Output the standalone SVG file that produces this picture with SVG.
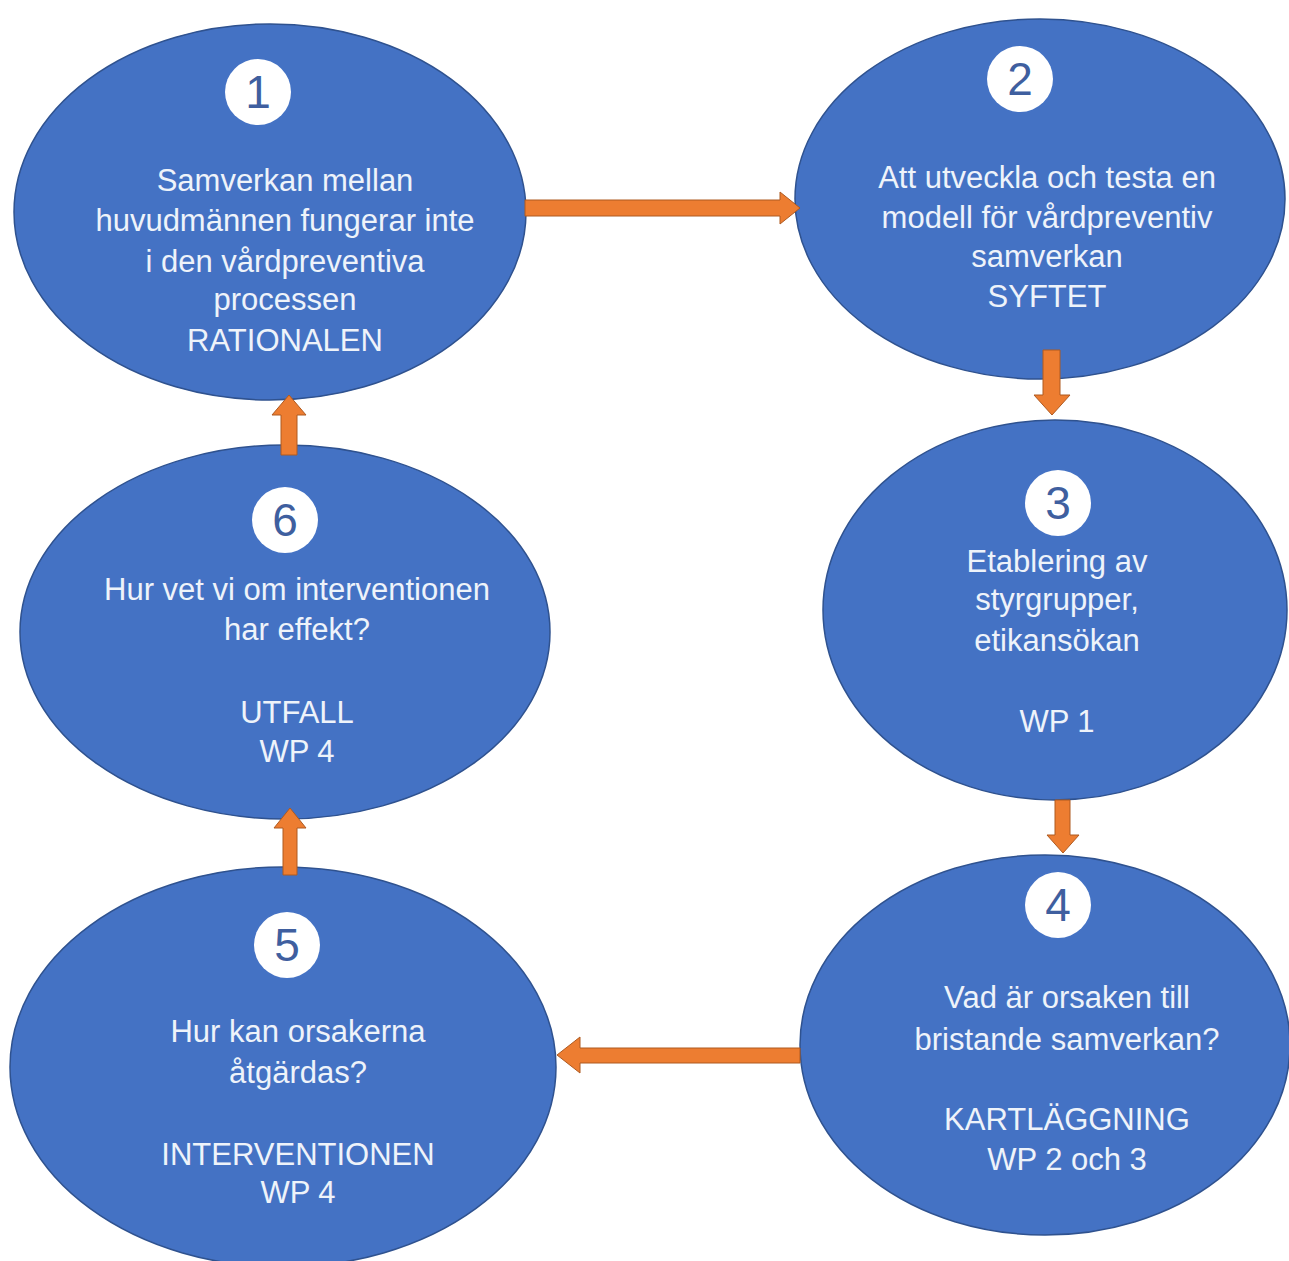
<svg xmlns="http://www.w3.org/2000/svg" width="1289" height="1261" viewBox="0 0 1289 1261">
<style>
.node{fill:#4472C4;stroke:#2F528F;stroke-width:1.5}
.num{fill:#FFFFFF}
.numt{font-family:"Liberation Sans",Arial,sans-serif;font-size:46px;fill:#3F5F9F;text-anchor:middle}
.t{font-family:"Liberation Sans",Arial,sans-serif;font-size:31px;fill:#EEF3FA;text-anchor:middle}
.arr{fill:#ED7D31;stroke:#AE5A21;stroke-width:1}
</style>
<rect width="1289" height="1261" fill="#FFFFFF"/>
<g id="node1">
<ellipse class="node" cx="270" cy="212" rx="256" ry="188"/>
<circle class="num" cx="258" cy="92" r="33"/>
<text class="numt" x="258" y="108">1</text>
<text class="t" x="285" y="191">Samverkan mellan</text>
<text class="t" x="285" y="231">huvudmännen fungerar inte</text>
<text class="t" x="285" y="272">i den vårdpreventiva</text>
<text class="t" x="285" y="310">processen</text>
<text class="t" x="285" y="351">RATIONALEN</text>
</g>
<g id="node2">
<ellipse class="node" cx="1040" cy="199" rx="245" ry="180"/>
<circle class="num" cx="1020" cy="79" r="33"/>
<text class="numt" x="1020" y="95">2</text>
<text class="t" x="1047" y="188">Att utveckla och testa en</text>
<text class="t" x="1047" y="228">modell för vårdpreventiv</text>
<text class="t" x="1047" y="267">samverkan</text>
<text class="t" x="1047" y="307">SYFTET</text>
</g>
<g id="node3">
<ellipse class="node" cx="1055" cy="610" rx="232" ry="190"/>
<circle class="num" cx="1058" cy="503" r="33"/>
<text class="numt" x="1058" y="519">3</text>
<text class="t" x="1057" y="572">Etablering av</text>
<text class="t" x="1057" y="610">styrgrupper,</text>
<text class="t" x="1057" y="651">etikansökan</text>
<text class="t" x="1057" y="732">WP 1</text>
</g>
<g id="node4">
<ellipse class="node" cx="1045" cy="1045" rx="245" ry="190"/>
<circle class="num" cx="1058" cy="905" r="33"/>
<text class="numt" x="1058" y="921">4</text>
<text class="t" x="1067" y="1008">Vad är orsaken till</text>
<text class="t" x="1067" y="1050">bristande samverkan?</text>
<text class="t" x="1067" y="1130">KARTLÄGGNING</text>
<text class="t" x="1067" y="1170">WP 2 och 3</text>
</g>
<g id="node5">
<ellipse class="node" cx="283" cy="1067" rx="273" ry="200"/>
<circle class="num" cx="287" cy="945" r="33"/>
<text class="numt" x="287" y="961">5</text>
<text class="t" x="298" y="1042">Hur kan orsakerna</text>
<text class="t" x="298" y="1083">åtgärdas?</text>
<text class="t" x="298" y="1165">INTERVENTIONEN</text>
<text class="t" x="298" y="1203">WP 4</text>
</g>
<g id="node6">
<ellipse class="node" cx="285" cy="632" rx="265" ry="187"/>
<circle class="num" cx="285" cy="520" r="33"/>
<text class="numt" x="285" y="536">6</text>
<text class="t" x="297" y="600">Hur vet vi om interventionen</text>
<text class="t" x="297" y="640">har effekt?</text>
<text class="t" x="297" y="723">UTFALL</text>
<text class="t" x="297" y="762">WP 4</text>
</g>
<g id="connectors">
<polygon class="arr" points="525,200 780,200 780,192 800,208 780,224 780,216 525,216"/>
<polygon class="arr" points="1043,350 1060,350 1060,395 1070,395 1052,415 1034,395 1043,395"/>
<polygon class="arr" points="1055,800 1070,800 1070,835 1079,835 1063,853 1047,835 1055,835"/>
<polygon class="arr" points="800,1048 800,1063 580,1063 580,1073 557,1055 580,1037 580,1048"/>
<polygon class="arr" points="283,875 297,875 297,828 306,828 290,808 274,828 283,828"/>
<polygon class="arr" points="281,455 297,455 297,415 306,415 289,395 272,415 281,415"/>
</g>
</svg>
